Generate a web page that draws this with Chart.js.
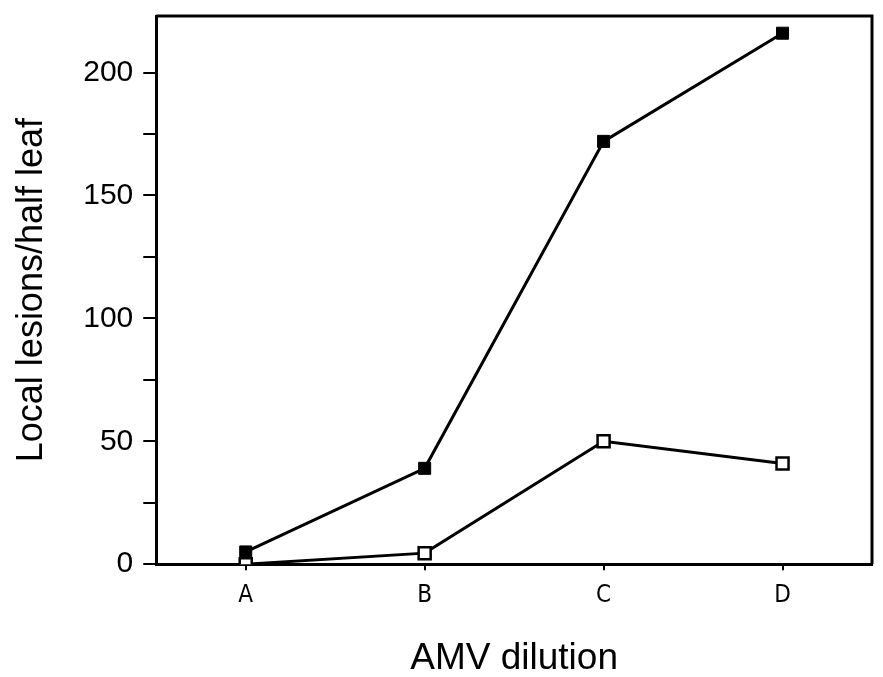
<!DOCTYPE html>
<html>
<head>
<meta charset="utf-8">
<script src="https://cdn.jsdelivr.net/npm/chart.js@4.4.1/dist/chart.umd.min.js"></script>
<style>
  html, body { margin: 0; padding: 0; background: #fff; }
  #wrap { width: 883px; height: 677px; }
</style>
</head>
<body>
<div id="wrap"><canvas id="line-chart"></canvas></div>
<script>
// AMV dilution categories and lesion counts
var dilutions = ["A", "B", "C", "D"];
var filledSeries = [5, 39, 172, 216];
var openSeries = [0, 4.5, 50, 41];
var yTickLabels = [0, 50, 100, 150, 200];

// draws the top and right sides of the frame
var frameBox = {
    id: 'frameBox',
    afterDraw: function (chart) {
        var a = chart.chartArea, ctx = chart.ctx;
        ctx.save();
        ctx.strokeStyle = '#000';
        ctx.lineWidth = 3;
        ctx.beginPath();
        ctx.moveTo(a.left, a.top);
        ctx.lineTo(a.right, a.top);
        ctx.lineTo(a.right, a.bottom);
        ctx.stroke();
        ctx.restore();
    }
};

new Chart(document.getElementById("line-chart"), {
    type: 'line',
    data: {
        labels: dilutions,
        datasets: [
            {
                label: "filled",
                data: filledSeries,
                borderColor: "#000",
                backgroundColor: "#000",
                borderWidth: 3,
                pointStyle: 'rect',
                pointRadius: 8.5,
                pointBorderWidth: 1,
                pointBackgroundColor: "#000",
                tension: 0
            },
            {
                label: "open",
                data: openSeries,
                borderColor: "#000",
                backgroundColor: "#fff",
                borderWidth: 3,
                pointStyle: 'rect',
                pointRadius: 8.5,
                pointBorderWidth: 2.5,
                pointBackgroundColor: "#fff",
                tension: 0
            }
        ]
    },
    options: {
        responsive: true,
        maintainAspectRatio: false,
        animation: false,
        layout: {padding: {top: 16, right: 4, left: 10, bottom: 0}},
        plugins: {
            legend: {display: false},
            tooltip: {enabled: false}
        },
        scales: {
            x: {
                offset: true,
                afterFit: function (scale) {
                    scale.paddingLeft = 0;
                    scale.paddingRight = 0;
                },
                grid: {display: true, drawOnChartArea: false, drawTicks: true, tickLength: 6, color: '#000', lineWidth: 2, offset: false},
                border: {display: true, color: '#000', width: 3},
                ticks: {
                    color: '#000',
                    padding: 11,
                    font: {family: "'Liberation Sans Narrow', 'DejaVu Sans Condensed', sans-serif", size: 24}
                },
                title: {
                    display: true,
                    text: 'AMV dilution',
                    color: '#000',
                    padding: {top: 19, bottom: 0},
                    font: {family: "'Liberation Sans', Arial, sans-serif", size: 37, lineHeight: 1.0}
                }
            },
            y: {
                min: 0,
                max: 223,
                afterBuildTicks: function (scale) {
                    scale.ticks = scale.ticks.filter(function (t) { return t.value % 25 === 0; });
                },
                afterFit: function (scale) {
                    scale.paddingTop = 0;
                },
                grid: {display: true, drawOnChartArea: false, drawTicks: true, tickLength: 13, color: '#000', lineWidth: 2},
                border: {display: true, color: '#000', width: 3},
                ticks: {
                    stepSize: 25,
                    color: '#000',
                    padding: 10,
                    font: {family: "'Liberation Sans', Arial, sans-serif", size: 30},
                    callback: function (v) {
                        return yTickLabels.indexOf(v) >= 0 ? String(v) : '';
                    }
                },
                title: {
                    display: true,
                    text: 'Local lesions/half leaf',
                    color: '#000',
                    padding: {top: 0, bottom: 20},
                    font: {family: "'Liberation Sans', Arial, sans-serif", size: 36}
                }
            }
        }
    },
    plugins: [frameBox]
});
</script>
</body>
</html>
